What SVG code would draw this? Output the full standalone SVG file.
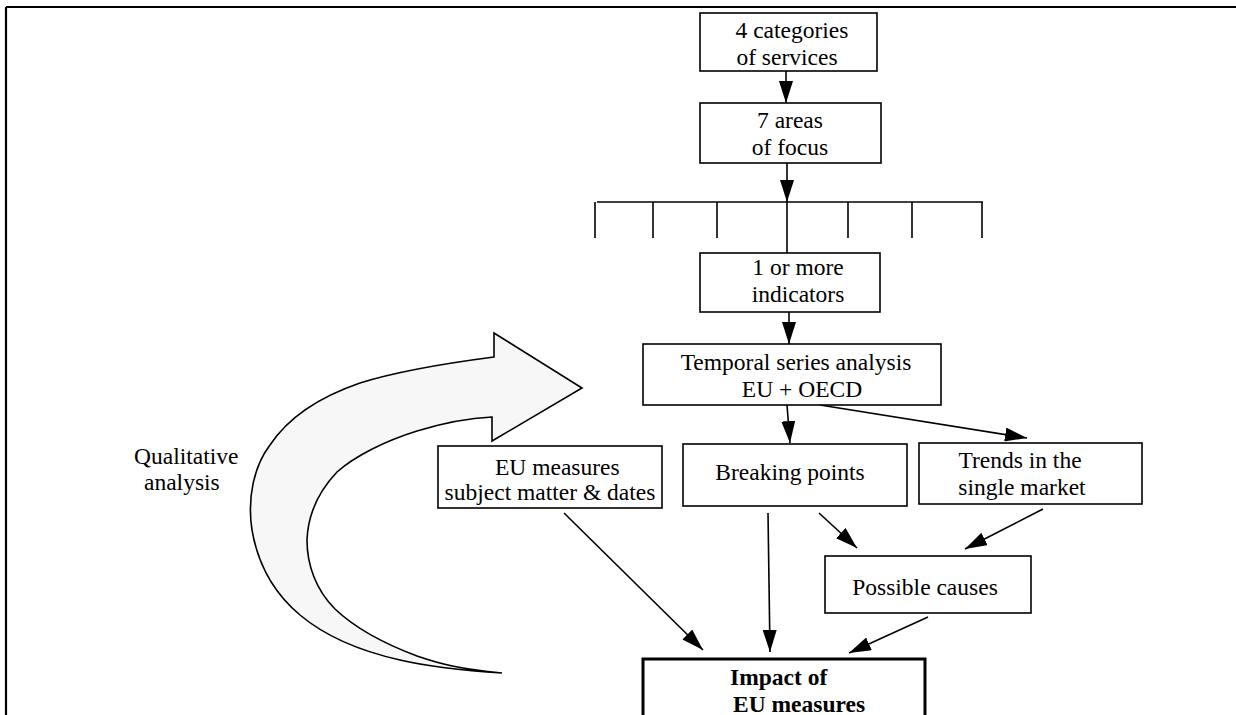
<svg xmlns="http://www.w3.org/2000/svg" width="1236" height="715" viewBox="0 0 1236 715">
  <defs>
    <marker id="arrow" markerUnits="userSpaceOnUse" markerWidth="22" markerHeight="14" refX="22" refY="7" orient="auto">
      <path d="M0,0 L22,7 L0,14 z" fill="#000"/>
    </marker>
    <style>
      .box { fill: #fff; stroke: #000; stroke-width: 1.6; }
      .bold-box { fill: #fff; stroke: #000; stroke-width: 3; }
      .lbl { font-family: "Liberation Serif", "Times New Roman", serif; font-size: 23.5px; fill: #000; }
      .c { text-anchor: middle; }
      .b { font-weight: bold; }
      .conn { stroke: #000; stroke-width: 1.6; fill: none; }
      .arr { marker-end: url(#arrow); }
    </style>
  </defs>

  <rect width="1236" height="715" fill="#fff"/>

  <!-- page frame -->
  <g id="frame" stroke="#000" stroke-width="2.2" fill="none">
    <line x1="6" y1="7" x2="1236" y2="7"/>
    <line x1="6" y1="7" x2="6" y2="715"/>
  </g>

  <!-- curved feedback arrow -->
  <g id="qualitative-loop">
    <path d="M502,673 C470,671 430,667 400,660 C360,651 325,636 300,615 C275,594 258,565 252,530 C247,498 254,466 270,445 C290,415 325,395 360,383 C395,372 440,364 494,357 L494,333 L582,388 L492,441 L492,417 C470,418 440,424 417,431 C385,441 355,456 337,472 C318,492 308,515 307,540 C307,565 316,590 335,609 C355,628 385,644 417,656 C440,664 460,669 502,673 Z" fill="#f7f7f7" stroke="#000" stroke-width="1.6" stroke-linejoin="miter"/>
    <text class="lbl" x="134" y="464">Qualitative</text>
    <text class="lbl" x="144" y="490">analysis</text>
  </g>

  <!-- connectors -->
  <g id="connectors">
    <line class="conn arr" x1="786" y1="71" x2="786" y2="103"/>
    <line class="conn arr" x1="787" y1="163" x2="787" y2="202"/>
    <line class="conn" x1="597" y1="202" x2="983" y2="202"/>
    <line class="conn" x1="595" y1="202" x2="595" y2="238"/>
    <line class="conn" x1="653" y1="202" x2="653" y2="238"/>
    <line class="conn" x1="717" y1="202" x2="717" y2="238"/>
    <line class="conn" x1="848" y1="202" x2="848" y2="238"/>
    <line class="conn" x1="912" y1="202" x2="912" y2="238"/>
    <line class="conn" x1="982" y1="202" x2="982" y2="238"/>
    <line class="conn" x1="787" y1="202" x2="787" y2="253"/>
    <line class="conn arr" x1="789" y1="312" x2="789" y2="344"/>
    <line class="conn arr" x1="787" y1="405" x2="790" y2="443"/>
    <line class="conn arr" x1="820" y1="405" x2="1027" y2="438"/>
    <line class="conn arr" x1="768" y1="513" x2="770" y2="652"/>
    <line class="conn arr" x1="819" y1="513" x2="857" y2="548"/>
    <line class="conn arr" x1="1043" y1="509" x2="965" y2="549"/>
    <line class="conn arr" x1="928" y1="617" x2="849" y2="653"/>
    <line class="conn arr" x1="564" y1="513" x2="703" y2="650"/>
  </g>

  <g id="categories">
    <rect class="box" x="700" y="13" width="177" height="58"/>
    <text class="lbl c" x="792" y="38">4 categories</text>
    <text class="lbl c" x="787" y="65">of services</text>
  </g>

  <g id="areas">
    <rect class="box" x="700" y="103" width="181" height="60"/>
    <text class="lbl c" x="790" y="128">7 areas</text>
    <text class="lbl c" x="790" y="155">of focus</text>
  </g>

  <g id="indicators">
    <rect class="box" x="700" y="253" width="180" height="59"/>
    <text class="lbl c" x="798" y="275">1 or more</text>
    <text class="lbl c" x="798" y="302">indicators</text>
  </g>

  <g id="temporal">
    <rect class="box" x="643" y="344" width="298" height="61"/>
    <text class="lbl c" x="796" y="370">Temporal series analysis</text>
    <text class="lbl c" x="802" y="397">EU + OECD</text>
  </g>

  <g id="eu-measures">
    <rect class="box" x="438" y="446" width="224" height="62"/>
    <text class="lbl" x="495" y="475">EU measures</text>
    <text class="lbl c" x="550" y="500">subject matter &amp; dates</text>
  </g>

  <g id="breaking">
    <rect class="box" x="683" y="444" width="224" height="62"/>
    <text class="lbl c" x="790" y="480">Breaking points</text>
  </g>

  <g id="trends">
    <rect class="box" x="919" y="443" width="223" height="61"/>
    <text class="lbl c" x="1020" y="468">Trends in the</text>
    <text class="lbl c" x="1022" y="495">single market</text>
  </g>

  <g id="causes">
    <rect class="box" x="825" y="556" width="206" height="57"/>
    <text class="lbl c" x="925" y="595">Possible causes</text>
  </g>

  <g id="impact">
    <rect class="bold-box" x="643" y="659" width="282" height="60"/>
    <text class="lbl b" x="730" y="685">Impact of</text>
    <text class="lbl b" x="733" y="712">EU measures</text>
  </g>
</svg>
